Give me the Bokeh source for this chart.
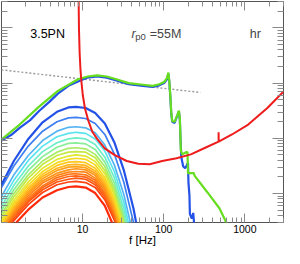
import numpy as np
from bokeh.plotting import figure
from bokeh.models import Range1d, LogAxis, FixedTicker, Label, NumeralTickFormatter, CustomJSTickFormatter
from bokeh.embed import file_html
from bokeh.resources import INLINE

# ---------------- data (frequency in Hz, amplitude as log10) ----------------
fam_f = [1.0, 1.42, 2.14, 3.21, 4.83, 6.69, 8.31, 10.9, 14.3, 18.8, 24.6, 32.3, 42.4, 55.6]
fam_log = [
    [-23.84, -23.41, -23.01, -22.71, -22.52, -22.44, -22.43, -22.45, -22.54, -22.73, -23.07, -23.58, -24.27, -25.18],
    [-23.89, -23.50, -23.14, -22.87, -22.70, -22.63, -22.62, -22.64, -22.73, -22.93, -23.28, -23.80, -24.52, -25.46],
    [-24.05, -23.66, -23.31, -23.04, -22.87, -22.80, -22.79, -22.81, -22.90, -23.12, -23.48, -24.02, -24.77],
    [-24.14, -23.76, -23.40, -23.14, -22.97, -22.91, -22.89, -22.91, -23.01, -23.23, -23.60, -24.16, -24.94],
    [-24.23, -23.85, -23.50, -23.24, -23.08, -23.01, -22.99, -23.01, -23.11, -23.34, -23.71, -24.28, -25.05],
    [-24.30, -23.93, -23.58, -23.33, -23.16, -23.09, -23.08, -23.10, -23.20, -23.43, -23.81, -24.38, -25.17],
    [-24.37, -24.00, -23.66, -23.41, -23.25, -23.18, -23.17, -23.19, -23.29, -23.51, -23.89, -24.45, -25.24],
    [-24.42, -24.06, -23.72, -23.47, -23.31, -23.25, -23.24, -23.25, -23.35, -23.58, -23.96, -24.52, -25.30],
    [-24.48, -24.12, -23.79, -23.54, -23.38, -23.32, -23.30, -23.32, -23.42, -23.64, -24.02, -24.59, -25.37],
    [-24.52, -24.17, -23.84, -23.60, -23.44, -23.38, -23.36, -23.38, -23.48, -23.71, -24.09, -24.65],
    [-24.56, -24.21, -23.89, -23.65, -23.49, -23.43, -23.42, -23.44, -23.54, -23.76, -24.14, -24.72],
    [-24.60, -24.25, -23.93, -23.69, -23.54, -23.48, -23.47, -23.49, -23.59, -23.81, -24.20, -24.78],
    [-24.62, -24.28, -23.97, -23.73, -23.58, -23.52, -23.51, -23.53, -23.63, -23.86, -24.26, -24.84],
    [-24.65, -24.32, -24.00, -23.77, -23.63, -23.57, -23.55, -23.57, -23.67, -23.90, -24.29, -24.87],
    [-24.68, -24.35, -24.04, -23.81, -23.67, -23.61, -23.60, -23.61, -23.72, -23.94, -24.32, -24.89],
    [-24.71, -24.38, -24.08, -23.86, -23.71, -23.65, -23.64, -23.66, -23.76, -23.99, -24.37, -24.95],
    [-24.74, -24.41, -24.12, -23.89, -23.75, -23.69, -23.68, -23.70, -23.80, -24.02, -24.40, -24.97],
    [-24.77, -24.45, -24.15, -23.93, -23.79, -23.74, -23.72, -23.74, -23.84, -24.06, -24.43, -24.98],
    [-24.80, -24.49, -24.20, -23.98, -23.84, -23.79, -23.78, -23.80, -23.89, -24.11, -24.48, -25.03],
    [-24.88, -24.57, -24.29, -24.07, -23.94, -23.88, -23.87, -23.89, -23.99, -24.22, -24.62, -25.20],
]
fam_colors = ["#2452e6", "#3d7ef0", "#55b4f2", "#5ce4ee", "#6eeec8", "#88ee98", "#a6ec66",
              "#c6ea44", "#e2e830", "#f6da22", "#ffc81e", "#ffb41c", "#ffa21a", "#ff9418",
              "#ff8416", "#ff7414", "#ff6412", "#ff5410", "#ff420e", "#ff2a0a"]

green_f = [1.0, 1.675, 2.884, 4.963, 8.779, 11.52, 15.11, 19.82, 26.01, 37.02, 55.63, 72.99,
           88.27, 101.1, 109.7, 114.2, 117.4, 120.6, 123.9, 127.4, 136.3, 147.8, 154.0, 158.2,
           160.4, 162.6, 169.3, 188.7, 196.6, 199.3, 234.6, 241.1, 343.1, 488.4, 598.6]
green_log = [-23.02, -22.75, -22.43, -22.14, -21.93, -21.88, -21.86, -21.88, -21.93, -22.00,
             -22.03, -22.05, -22.02, -21.98, -21.91, -21.81, -21.97, -22.22, -22.53, -22.69,
             -22.70, -22.57, -22.50, -22.65, -22.91, -23.22, -23.29, -23.25, -23.25, -23.63,
             -23.63, -23.68, -23.97, -24.27, -24.54]

blue_f = [1.0, 1.312, 1.675, 2.258, 2.884, 3.888, 4.963, 6.69, 8.779, 11.52, 15.11, 19.82,
          26.01, 37.02, 55.63, 72.99, 88.27, 101.1, 109.7, 114.2, 117.4, 120.6, 123.9, 127.4,
          136.3, 147.8, 154.0, 158.2, 160.4, 164.8, 174.0, 183.8, 194.0, 199.3, 202.0, 207.6,
          210.4, 222.2, 231.4, 237.8]
blue_log = [-23.04, -22.94, -22.81, -22.67, -22.51, -22.34, -22.19, -22.05, -21.97, -21.90,
            -21.88, -21.90, -21.95, -22.02, -22.05, -22.07, -22.04, -22.00, -21.93, -21.83,
            -21.98, -22.24, -22.55, -22.70, -22.72, -22.58, -22.51, -22.67, -22.94, -23.34,
            -23.51, -23.54, -23.48, -23.44, -23.80, -24.03, -24.37, -24.45, -24.35, -24.57]

noise_f = [8.92, 9.02, 9.19, 9.40, 9.65, 10.06, 10.70, 11.83, 13.19, 15.11, 18.77, 24.63, 35.06,
           48.57, 67.28, 95.7, 143.9, 216.3, 325.0, 475.0, 475.0, 477.0, 695.0, 1102.0, 1897.0, 3011.0]
noise_log = [-20.42, -21.02, -21.45, -21.74, -21.96, -22.22, -22.46, -22.69, -22.88, -23.01, -23.18,
             -23.30, -23.41, -23.46, -23.47, -23.41, -23.36, -23.29, -23.17, -23.06, -22.89, -23.06,
             -22.93, -22.75, -22.45, -22.15]

dot_f = [1.0, 284.0]
dot_log = [-21.76, -22.17]

x_major = [10, 100, 1000]
y_major = [1e-24, 1e-23, 1e-22, 1e-21]

# ---------------- figure ----------------
FONT = "Liberation Sans"
p = figure(width=284, height=248, x_axis_type="log", y_axis_type="log",
           x_range=Range1d(1, 3000), y_range=Range1d(3e-25, 3e-21),
           output_backend="svg", toolbar_location=None,
           min_border_left=1, min_border_right=1, min_border_top=1, min_border_bottom=0)
p.grid.visible = False
p.outline_line_color = "#555555"
p.outline_line_width = 1
p.background_fill_color = "white"
p.border_fill_color = "white"

x_minor = [m * 10 ** e for e in range(0, 4) for m in range(2, 10)]
y_minor = [m * 10.0 ** e for e in range(-25, -20) for m in range(2, 10)]
xt = FixedTicker(ticks=x_major, minor_ticks=x_minor)
yt = FixedTicker(ticks=y_major, minor_ticks=y_minor)
blank = CustomJSTickFormatter(code="return ''")


def style(ax, ticker, maj, mnr, labels):
    ax.ticker = ticker
    ax.major_tick_in = maj
    ax.major_tick_out = 0
    ax.minor_tick_in = mnr
    ax.minor_tick_out = 0
    ax.major_tick_line_color = "#8a8a8a"
    ax.minor_tick_line_color = "#8a8a8a"
    ax.axis_line_color = None
    if labels:
        ax.formatter = NumeralTickFormatter(format="0")
        ax.major_label_text_font = FONT
        ax.major_label_text_font_size = "10.5px"
        ax.major_label_text_color = "black"
        ax.major_label_standoff = 2
    else:
        ax.formatter = blank
        ax.axis_label = None
        ax.axis_label_standoff = 0
        ax.major_label_standoff = 0
        ax.major_label_text_font_size = "0px"
        ax.major_label_text_alpha = 0


style(p.xaxis[0], xt, 9, 5, True)
style(p.yaxis[0], yt, 11, 6, False)
xa = p.xaxis[0]
xa.axis_label = "f [Hz]"
xa.axis_label_text_font = FONT
xa.axis_label_text_font_size = "11.5px"
xa.axis_label_text_font_style = "normal"
xa.axis_label_text_color = "black"
xa.axis_label_standoff = -2

top = LogAxis()
right = LogAxis()
style(top, xt, 9, 5, False)
style(right, yt, 11, 6, False)
right.major_label_standoff = -6
p.add_layout(top, "above")
p.add_layout(right, "right")

# ---------------- glyphs ----------------
p.line(dot_f, [10 ** v for v in dot_log], line_color="#9a9a9a", line_width=1.4, line_dash="2 2")

for k in range(len(fam_log) - 1, -1, -1):
    ys = [10 ** v for v in fam_log[k]]
    lw = 2.2 if k in (0, len(fam_log) - 1) else 1.7
    p.line(fam_f[:len(ys)], ys, line_color=fam_colors[k], line_width=lw)

p.line(blue_f, [10 ** v for v in blue_log], line_color="#2452e6", line_width=2.2)
p.line(green_f, [10 ** v for v in green_log], line_color="#66dd1e", line_width=2.2)
p.line(noise_f, [10 ** v for v in noise_log], line_color="#ee1c1c", line_width=2.0)

# ---------------- texts ----------------
base = 10 ** -21.107
p.add_layout(Label(x=2.26, y=base, text="3.5PN", text_font=FONT, text_font_size="12.5px",
                   text_baseline="alphabetic", text_align="left", text_color="black"))
p.add_layout(Label(x=40.2, y=base, text="r", text_font=FONT, text_font_size="12.5px",
                   text_font_style="italic", text_baseline="alphabetic", text_align="left"))
p.add_layout(Label(x=44.5, y=10 ** -21.158, text="p0", text_font=FONT, text_font_size="9.5px",
                   text_baseline="alphabetic", text_align="left"))
p.add_layout(Label(x=67.3, y=base, text="=55M", text_font=FONT, text_font_size="12.5px",
                   text_baseline="alphabetic", text_align="left"))
p.add_layout(Label(x=1352, y=base, text="hr", text_font=FONT, text_font_size="12.5px",
                   text_baseline="alphabetic", text_align="center"))

open("out.html", "w").write(file_html(p, INLINE))
